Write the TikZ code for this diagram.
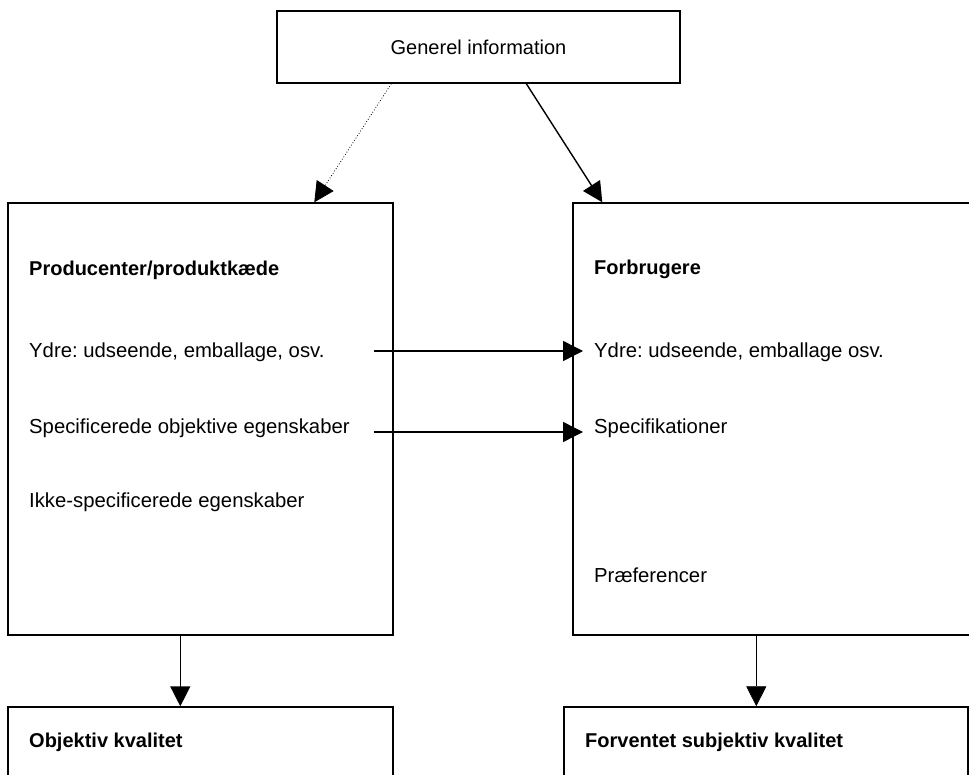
\documentclass[tikz,border=0pt]{standalone}
\usepackage{fontspec}
\setmainfont{Liberation Sans}
\frenchspacing
\usepackage{tikz}
\usetikzlibrary{arrows.meta}
\tikzset{
  frame/.style={rectangle, draw, line width=1.4pt, inner sep=0pt},
  itemtext/.style={anchor=base west, inner sep=0pt, font=\fontsize{20.3}{24}\selectfont},
  headtext/.style={itemtext, font=\fontsize{20}{24}\selectfont\bfseries},
  arr/.style={-{Triangle[length=20pt,width=20pt]}, line width=1.4pt},
}
\newcommand{\qframe}[5] {\node at (#1) (#2) [frame, minimum width=#3pt, minimum height=#4pt] {#5};}
\newcommand{\qhead}[3] {\node at (#1) (#2) [headtext] {#3};}
\newcommand{\qitem}[3] {\node at (#1) (#2) [itemtext] {#3};}

\begin{document}
\begin{tikzpicture}[x=1pt, y=-1pt]
\useasboundingbox (0,0) rectangle (969,775);
\clip (0,0) rectangle (969,775);

\qframe {478.5,47}{info}{403}{72}{\fontsize{20}{24}\selectfont Generel information}

% producent side
\qframe {200.5,419}{prod}{385}{432}{}
\qhead  {29,276}{prodT}{Producenter/produktkæde}
\qitem  {29,358}{ydreL}{Ydre: udseende, emballage, osv.}
\qitem  {29,433}{specL}{Specificerede objektive egenskaber}
\qitem  {29,507}{ikkeL}{Ikke-specificerede egenskaber}

% forbruger side
\qframe {783,419}{forb}{420}{432}{}
\qhead  {594,275}{forbT}{Forbrugere}
\qitem  {594,358}{ydreR}{Ydre: udseende, emballage osv.}
\qitem  {594,433}{specR}{Specifikationer}
\qitem  {594,582}{praefR}{Præferencer}

% kvalitet
\qframe {200.5,754}{objk}{385}{94}{}
\qhead  {29,747}{objT}{Objektiv kvalitet}
\qframe {766,754}{subj}{404}{94}{}
\qhead  {585,747}{subjT}{Forventet subjektiv kvalitet}

\draw [arr, line width=0.8pt, dotted] ([xshift=115pt]info.south west) -- ([xshift=307pt]prod.north west);
\draw [arr] ([xshift=250pt]info.south west) -- ([xshift=30pt]forb.north west);

\draw [arr] ([xshift=-20pt,yshift=7pt]prod.east |- ydreL.base) -- ([xshift=-11pt,yshift=7pt]ydreR.base west);
\draw [arr] ([xshift=-20pt,yshift=1pt]prod.east |- specL.base) -- ([xshift=-11pt,yshift=1pt]specR.base west);

\draw [arr] ([xshift=173pt]prod.south west) -- ([xshift=173pt]objk.north west);
\draw [arr, line width=0.7pt] ([xshift=184pt]forb.south west) -- ([xshift=193pt]subj.north west);

\end{tikzpicture}
\end{document}
